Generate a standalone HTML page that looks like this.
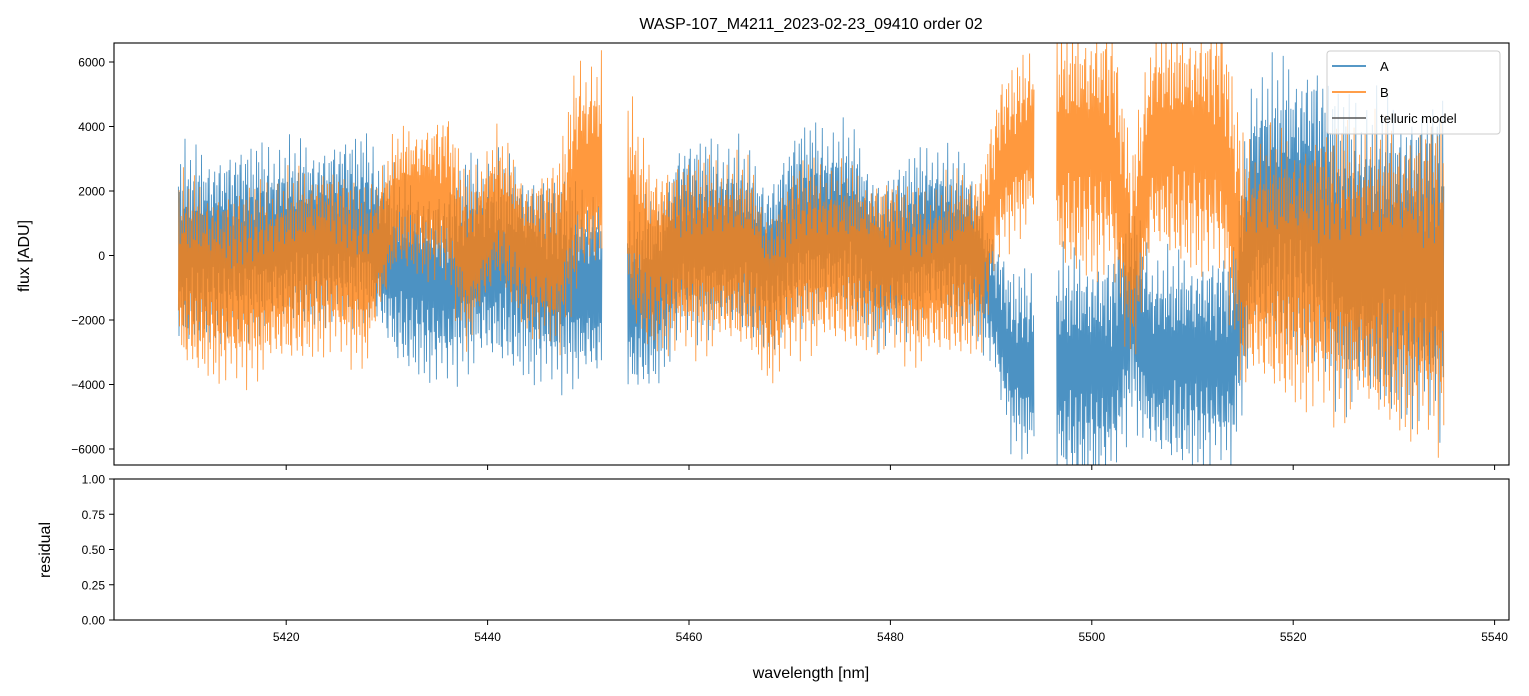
<!DOCTYPE html>
<html><head><meta charset="utf-8">
<style>
body{margin:0;background:#fff;}
svg{display:block;font-family:"Liberation Sans","DejaVu Sans",sans-serif;}
</style></head>
<body>
<svg id="chart" width="1529" height="696" viewBox="0 0 1529 696" xmlns="http://www.w3.org/2000/svg">
<defs><clipPath id="clipTop"><rect x="114" y="43" width="1395" height="422"/></clipPath></defs>
<text x="811" y="29" text-anchor="middle" font-size="16">WASP-107_M4211_2023-02-23_09410  order 02</text>
<g id="series" clip-path="url(#clipTop)"></g>
<rect x="114" y="43" width="1395" height="422" fill="none" stroke="#000" stroke-width="1.1"/>
<rect x="114" y="479" width="1395" height="141" fill="none" stroke="#000" stroke-width="1.1"/>
<g id="axes"></g>
<text transform="translate(29,256) rotate(-90)" text-anchor="middle" font-size="16">flux [ADU]</text>
<text transform="translate(50,550) rotate(-90)" text-anchor="middle" font-size="16">residual</text>
<text x="811" y="678" text-anchor="middle" font-size="16">wavelength [nm]</text>
<g>
<rect x="1327" y="51" width="173" height="83" rx="3" fill="#fff" fill-opacity="0.8" stroke="#ccc"/>
<line x1="1332" y1="66" x2="1366" y2="66" stroke="#1f77b4" stroke-width="1.5"/>
<text x="1380" y="71" font-size="13">A</text>
<line x1="1332" y1="92" x2="1366" y2="92" stroke="#ff7f0e" stroke-width="1.5"/>
<text x="1380" y="97" font-size="13">B</text>
<line x1="1332" y1="118" x2="1366" y2="118" stroke="#555" stroke-width="1.5"/>
<text x="1380" y="123" font-size="13">telluric model</text>
</g>
</svg>
<script>
// breakpoints: wavelength, upper and lower envelope of flux (null = gap)
const aWave=[5409.3,5415,5420,5428,5431,5436,5438,5442,5446,5450,5451.4,null,5453.9,5457,5459,5465,5468,5471,5476,5479,5484,5488,5490,5492,5494.3,null,5496.5,5502,5504,5506,5514,5516,5522,5525,5535];
const aHigh=[2800,2800,3000,3200,2000,1500,2500,2500,2000,1500,1500,null,1000,1500,3000,3000,2000,3500,3500,2000,3000,2500,500,-1000,-1000,null,-500,-500,1000,-500,-500,5000,5500,4000,4000];
const aLow=[-2500,-2000,-1800,-1500,-3000,-3500,-3000,-3000,-3500,-3500,-3500,null,-4000,-3500,-2000,-2000,-2500,-1500,-1500,-2500,-1500,-2000,-3000,-5500,-6000,null,-6500,-6500,-4500,-6000,-6000,-2000,-2500,-4000,-4500];
const bWave=[5409.3,5415,5420,5424,5428,5431,5436,5438,5441,5444,5447,5449,5451.4,null,5453.9,5456,5466,5468,5471,5480,5483,5489,5491,5494.3,null,5496.5,5502,5504,5506,5513,5515,5535];
const bHigh=[2000,1500,2000,2500,1500,3500,4000,2000,3500,2000,2500,5500,5500,null,4500,2500,2500,1000,2500,2000,1500,2500,5000,6000,null,6600,6600,2500,6600,6600,3000,3500];
const bLow=[-3000,-3500,-3000,-2500,-3000,0,-500,-2500,-500,-2000,-2500,-500,0,null,-1500,-2500,-2500,-3500,-2500,-2500,-3000,-2500,500,1500,null,0,0,-3000,500,0,-3500,-5000];
const xTicks=[5420,5440,5460,5480,5500,5520,5540];
const yTicks=[-6000,-4000,-2000,0,2000,4000,6000];
const rTicks=[0,0.25,0.5,0.75,1.0];

const NS='http://www.w3.org/2000/svg';
const xS=w=>114+(w-5402.9)*10.07;
const yS=v=>255.5-v*0.03225;
const rS=v=>620-v*141;
const texture=[1,0.55,0.9,0.35,0.8,0.65,1.05,0.45,0.75,0.95,0.5,0.85,0.3,0.7,0.92,0.6,1,0.4,0.8];

function segments(wave,hi,lo){
  const segs=[];let cur=[];
  for(let i=0;i<wave.length;i++){
    if(wave[i]===null){if(cur.length)segs.push(cur);cur=[];}
    else cur.push([wave[i],hi[i],lo[i]]);
  }
  if(cur.length)segs.push(cur);
  return segs;
}
function drawSeries(wave,hi,lo,color,name,phase){
  const g=document.getElementById('series');
  segments(wave,hi,lo).forEach(seg=>{
    let pts=[];let k=phase;
    const x0=xS(seg[0][0]),x1=xS(seg[seg.length-1][0]);
    for(let x=x0;x<=x1;x+=0.55){
      const w=5402.9+(x-114)/10.07;
      let j=0;while(j<seg.length-2&&seg[j+1][0]<w)j++;
      const a=seg[j],b=seg[j+1]||a;
      const t=b[0]===a[0]?0:Math.min(1,Math.max(0,(w-a[0])/(b[0]-a[0])));
      const h=a[1]+(b[1]-a[1])*t,l=a[2]+(b[2]-a[2])*t;
      const mid=(h+l)/2,half=(h-l)/2*texture[Math.floor(k/2)%texture.length]*(1+0.25*((k*7)%5-2)/2);
      const v=(k%2===0)?mid+half:mid-half;
      pts.push(x.toFixed(1)+','+yS(v).toFixed(1));k++;
    }
    const p=document.createElementNS(NS,'polyline');
    p.setAttribute('points',pts.join(' '));
    p.setAttribute('fill','none');p.setAttribute('stroke',color);
    p.setAttribute('stroke-width','0.9');p.setAttribute('stroke-opacity','0.8');
    
    
    g.appendChild(p);
  });
}
drawSeries(aWave,aHigh,aLow,'#1f77b4','series-a-line',0);
drawSeries(bWave,bHigh,bLow,'#ff7f0e','series-b-line',3);

const ax=document.getElementById('axes');
function line(x1,y1,x2,y2){const l=document.createElementNS(NS,'line');l.setAttribute('x1',x1);l.setAttribute('y1',y1);l.setAttribute('x2',x2);l.setAttribute('y2',y2);l.setAttribute('stroke','#000');l.setAttribute('stroke-width','1');ax.appendChild(l);return l;}
function text(x,y,s,anchor){const t=document.createElementNS(NS,'text');t.setAttribute('x',x);t.setAttribute('y',y);t.setAttribute('text-anchor',anchor);t.setAttribute('font-size','12');t.textContent=s;ax.appendChild(t);return t;}
xTicks.forEach(v=>{
  const x=xS(v);
  const t1=line(x,465,x,470);
  
  
  const t2=line(x,620,x,625);
  
  
  const lb=text(x,641,String(v),'middle');
  
  
});
yTicks.forEach(v=>{
  const y=yS(v);
  const t=line(109,y,114,y);
  
  
  const lb=text(105,y+4.5,String(v).replace('-','\u2212'),'end');
  
  
});
rTicks.forEach(v=>{
  const y=rS(v);
  const t=line(109,y,114,y);
  
  
  const lb=text(105,y+4.5,v.toFixed(2),'end');
  
  
});
</script>
</body></html>
